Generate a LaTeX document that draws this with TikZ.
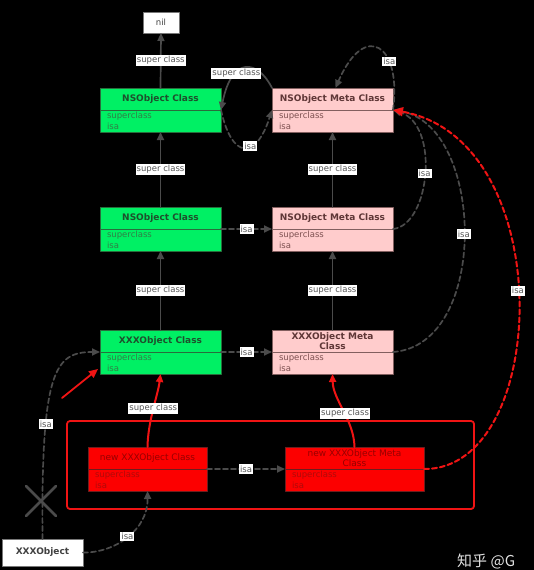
\documentclass[tikz,border=0pt]{standalone}
\usepackage{fontspec}
\setmainfont{DejaVu Sans}
\newfontfamily\cjkfont{Noto Sans CJK SC}
\usetikzlibrary{positioning,arrows.meta}

\begin{document}
\begin{tikzpicture}[x=1pt, y=-1pt, line cap=round, line join=round,
  base/.style={draw, inner sep=0pt, outer sep=0pt, minimum height=22pt, line width=0.9pt},
  head/.style={base, font=\bfseries\fontsize{9}{10.5}\selectfont, align=center},
  fields/.style={base, font=\fontsize{8.5}{10.5}\selectfont, align=left, inner xsep=7pt, below=0pt of #1},
  greenbox/.style={fill=clsgreen, draw=clsgreenline, text=clsgreenhead},
  greenfld/.style={greenbox, text=clsgreentext},
  pinkbox/.style={fill=clspink, draw=clspinkline, text=clspinkhead},
  pinkfld/.style={pinkbox, text=clspinktext},
  redbox/.style={fill=clsred, draw=clsredline, text=clsredhead},
  redfld/.style={redbox, text=clsredtext},
  plainbox/.style={draw=boxline, fill=white, inner sep=0pt, outer sep=0pt, text=boxtext},
  lbl/.style={fill=white, text=lbltext, font=\fontsize{8.5}{9}\selectfont, inner xsep=1pt, inner ysep=1.5pt},
  sup/.style={draw=linegray, line width=1.7pt, -{Triangle[length=8pt,width=7pt]}},
  isa/.style={sup, dash pattern=on 5pt off 3pt},
  redsup/.style={sup, draw=redline, line width=2pt},
  redisa/.style={isa, draw=redline, line width=2pt, -{Triangle[length=10pt,width=9pt]}}
]

% Colors
\definecolor{clsgreen}{RGB}{0,240,100}
\definecolor{clsgreenline}{RGB}{40,110,60}
\definecolor{clsgreenhead}{RGB}{30,80,45}
\definecolor{clsgreentext}{RGB}{50,125,70}
\definecolor{clspink}{RGB}{255,204,204}
\definecolor{clspinkline}{RGB}{130,95,95}
\definecolor{clspinkhead}{RGB}{95,55,55}
\definecolor{clspinktext}{RGB}{125,80,80}
\definecolor{clsred}{RGB}{252,0,0}
\definecolor{clsredline}{RGB}{110,30,30}
\definecolor{clsredhead}{RGB}{150,0,0}
\definecolor{clsredtext}{RGB}{175,10,10}
\definecolor{boxline}{RGB}{120,120,120}
\definecolor{boxtext}{RGB}{65,65,65}
\definecolor{lbltext}{RGB}{85,85,85}
\definecolor{linegray}{RGB}{75,75,75}
\definecolor{redline}{RGB}{240,20,20}

% Background
\fill[black] (0,0) rectangle (534,570);
\useasboundingbox (0,0) rectangle (534,570);

% nil
\node[plainbox, minimum width=36pt, minimum height=21pt, font=\fontsize{8.5}{9}\selectfont] (nil) at (161,22.5) {nil};

% Root class and its meta class
\node[head, greenbox, minimum width=121pt] (nsc1) at (160.5,99) {NSObject Class};
\node[fields=nsc1, greenfld, text width=107pt] (nsc1f) {superclass\\isa};
\node[head, pinkbox, minimum width=121pt] (nsm1) at (332.5,99) {NSObject Meta Class};
\node[fields=nsm1, pinkfld, text width=107pt] (nsm1f) {superclass\\isa};

% Second row
\node[head, greenbox, minimum width=121pt] (nsc2) at (160.5,218) {NSObject Class};
\node[fields=nsc2, greenfld, text width=107pt] (nsc2f) {superclass\\isa};
\node[head, pinkbox, minimum width=121pt] (nsm2) at (332.5,218) {NSObject Meta Class};
\node[fields=nsm2, pinkfld, text width=107pt] (nsm2f) {superclass\\isa};

% XXXObject row
\node[head, greenbox, minimum width=121pt] (xcl) at (160.5,341) {XXXObject Class};
\node[fields=xcl, greenfld, text width=107pt] (xclf) {superclass\\isa};
\node[head, pinkbox, minimum width=121pt] (xm) at (332.5,341) {XXXObject Meta\\Class};
\node[fields=xm, pinkfld, text width=107pt] (xmf) {superclass\\isa};

% New classes
\draw[redline, line width=1.8pt, rounded corners=3pt] (67,421) rectangle (474,509);
\node[head, redbox, minimum width=119pt, font=\fontsize{9}{10.5}\selectfont] (nxc) at (147.5,458) {new XXXObject Class};
\node[fields=nxc, redfld, text width=105pt] (nxcf) {superclass\\isa};
\node[head, redbox, minimum width=139pt, font=\fontsize{9}{10.5}\selectfont] (nxm) at (354.5,458) {new XXXObject Meta\\Class};
\node[fields=nxm, redfld, text width=125pt] (nxmf) {superclass\\isa};

% Instance
\node[plainbox, minimum width=81pt, minimum height=27pt, font=\bfseries\fontsize{9}{10}\selectfont] (xo) at (42.5,552.5) {XXXObject};

% super class links
\draw[sup] (nsc1.north) -- node[lbl] {super class} (nil.south);
\draw[sup] (nsc2.north) -- node[lbl] {super class} (nsc1f.south);
\draw[sup] (xcl.north) -- node[lbl] {super class} (nsc2f.south);
\draw[sup] (nsm2.north) -- node[lbl] {super class} (nsm1f.south);
\draw[sup] (xm.north) -- node[lbl] {super class} (nsm2f.south);
\draw[sup] (nsm1.north west) .. controls (258,60) and (232,55) .. node[lbl, pos=0.66] {super class} (nsc1.south east);
\draw[redsup] (nxc.north) .. controls (148,420) and (158,395) .. node[lbl, pos=0.5] {super class} (xclf.south);
\draw[redsup] (nxm.north) .. controls (354,420) and (333,400) .. node[lbl, pos=0.45] {super class} (xmf.south);

% isa links
\draw[isa] (nsc1.south east) .. controls (232,160) and (256,160) .. node[lbl, pos=0.6] {isa} (nsm1.south west);
\draw[isa] (nsm1.south east) .. controls (402,45) and (365,20) .. node[lbl, pos=0.32] {isa} ([xshift=3pt]nsm1.north);
\draw[isa] (nsc2.south east) -- node[lbl] {isa} (nsm2.south west);
\draw[isa] (xcl.south east) -- node[lbl] {isa} (xm.south west);
\draw[isa] (nxc.south east) -- node[lbl] {isa} (nxm.south west);
\draw[isa] (nsm2.south east) .. controls (430,225) and (440,125) .. node[lbl, pos=0.5] {isa} (nsm1.south east);
\draw[isa] (xm.south east) .. controls (490,345) and (485,125) .. node[lbl, pos=0.5] {isa} (nsm1.south east);
\draw[redisa] (nxm.south east) .. controls (550,470) and (560,140) .. node[lbl, pos=0.52] {isa} (nsm1.south east);
\draw[isa] (xo.north) .. controls (41,370) and (55,352) .. node[lbl, pos=0.3] {isa} (xcl.south west);
\draw[isa] (xo.east) .. controls (115,553) and (148,530) .. node[lbl, pos=0.5] {isa} (nxcf.south);

% Broken link mark
\draw[linegray, line width=2.8pt] (26,486) -- (56,516) (26,516) -- (56,486);

% Hint arrow
\coordinate (hintstart) at (62,398);
\coordinate (hintend) at (98,369);
\draw[redline, line width=1.8pt, -{Triangle[length=9pt,width=8pt]}] (hintstart) -- (hintend);

% Watermark
\node[anchor=west, text={rgb,255:red,225;green,225;blue,225}, font=\cjkfont\fontsize{15}{16}\selectfont, inner sep=0pt] (mark) at (457,561) {知乎 @G};

\end{tikzpicture}
\end{document}
